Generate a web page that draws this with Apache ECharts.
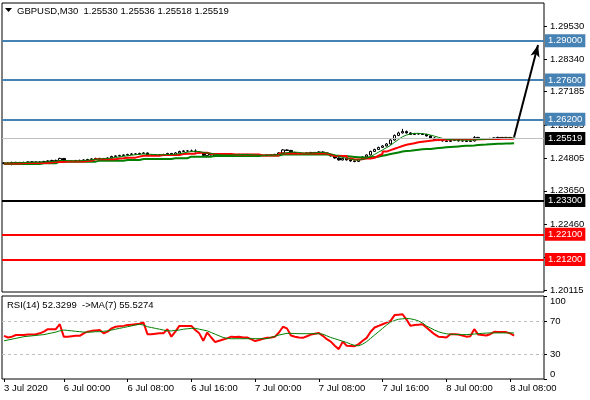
<!DOCTYPE html>
<html>
<head>
<meta charset="utf-8">
<script src="https://cdn.jsdelivr.net/npm/echarts@6/dist/echarts.min.js"></script>
<style>
  html, body { margin: 0; padding: 0; background: #fff; }
  #chart { width: 590px; height: 400px; }
</style>
</head>
<body>
<div id="chart"></div>
<script>
// GBPUSD M30 bars, 3 Jul 2020 16:30 .. 8 Jul 2020 08:30
const barOpen = [
  1.24620,1.24644,1.24626,1.24662,1.24662,1.24644,1.24662,1.24680,1.24680,1.24662,
  1.24680,1.24697,1.24715,1.24733,1.24733,1.24805,1.24697,1.24697,1.24715,1.24733,
  1.24733,1.24751,1.24769,1.24787,1.24805,1.24805,1.24787,1.24822,1.24876,1.24894,
  1.24911,1.24929,1.24947,1.24965,1.24965,1.24983,1.25001,1.24911,1.24929,1.24929,
  1.24929,1.24947,1.24983,1.24929,1.25001,1.25054,1.25072,1.25072,1.25072,1.25036,
  1.25001,1.24911,1.24983,1.24929,1.24894,1.24911,1.24929,1.24929,1.24947,1.24947,
  1.24947,1.24947,1.24947,1.24929,1.24894,1.24911,1.24911,1.24929,1.24929,1.24947,
  1.25001,1.25108,1.25090,1.25018,1.24983,1.24965,1.24965,1.25001,1.25018,1.25018,
  1.25036,1.25001,1.24947,1.24894,1.24822,1.24751,1.24805,1.24751,1.24715,1.24697,
  1.24769,1.24858,1.24929,1.25054,1.25126,1.25197,1.25250,1.25322,1.25464,1.25625,
  1.25714,1.25768,1.25714,1.25661,1.25679,1.25679,1.25661,1.25607,1.25536,1.25464,
  1.25447,1.25429,1.25411,1.25447,1.25447,1.25429,1.25429,1.25411,1.25429,1.25554,
  1.25500,1.25482,1.25482,1.25518,1.25536,1.25554,1.25536,1.25554,1.25530
];
const barHigh = [
  1.24670,1.24665,1.24690,1.24685,1.24680,1.24690,1.24700,1.24705,1.24700,1.24705,
  1.24720,1.24740,1.24755,1.24760,1.24830,1.24815,1.24725,1.24735,1.24750,1.24760,
  1.24775,1.24790,1.24810,1.24830,1.24825,1.24820,1.24845,1.24900,1.24915,1.24935,
  1.24950,1.24970,1.24990,1.24985,1.25010,1.25025,1.25015,1.24950,1.24955,1.24950,
  1.24970,1.25005,1.25000,1.25030,1.25080,1.25100,1.25095,1.25120,1.25130,1.25055,
  1.25020,1.25010,1.25000,1.24950,1.24935,1.24950,1.24955,1.24970,1.24965,1.24970,
  1.24965,1.24970,1.24960,1.24945,1.24935,1.24930,1.24950,1.24945,1.24970,1.25025,
  1.25140,1.25130,1.25110,1.25040,1.25005,1.24990,1.25020,1.25040,1.25035,1.25060,
  1.25055,1.25020,1.24965,1.24910,1.24840,1.24830,1.24820,1.24770,1.24730,1.24790,
  1.24880,1.24950,1.25080,1.25150,1.25225,1.25280,1.25350,1.25490,1.25660,1.25760,
  1.25860,1.25800,1.25740,1.25710,1.25700,1.25705,1.25685,1.25630,1.25560,1.25485,
  1.25470,1.25450,1.25470,1.25475,1.25465,1.25455,1.25450,1.25450,1.25600,1.25575,
  1.25520,1.25505,1.25540,1.25560,1.25580,1.25570,1.25575,1.25570,1.25536
];
const barLow = [
  1.24600,1.24605,1.24560,1.24640,1.24625,1.24630,1.24645,1.24660,1.24645,1.24650,
  1.24665,1.24680,1.24700,1.24715,1.24715,1.24680,1.24675,1.24680,1.24700,1.24715,
  1.24715,1.24735,1.24750,1.24770,1.24785,1.24770,1.24770,1.24805,1.24860,1.24875,
  1.24895,1.24910,1.24930,1.24945,1.24950,1.24965,1.24890,1.24895,1.24910,1.24915,
  1.24910,1.24930,1.24910,1.24910,1.24985,1.25035,1.25050,1.25055,1.25020,1.24985,
  1.24880,1.24840,1.24910,1.24875,1.24875,1.24895,1.24910,1.24910,1.24930,1.24925,
  1.24930,1.24925,1.24910,1.24875,1.24875,1.24890,1.24895,1.24910,1.24910,1.24930,
  1.24985,1.25070,1.25000,1.24965,1.24945,1.24945,1.24950,1.24985,1.25000,1.25000,
  1.24985,1.24930,1.24875,1.24800,1.24730,1.24730,1.24730,1.24690,1.24670,1.24680,
  1.24750,1.24840,1.24910,1.25035,1.25105,1.25180,1.25230,1.25300,1.25440,1.25600,
  1.25695,1.25690,1.25640,1.25645,1.25660,1.25640,1.25590,1.25515,1.25445,1.25425,
  1.25410,1.25390,1.25395,1.25425,1.25410,1.25410,1.25390,1.25395,1.25410,1.25480,
  1.25465,1.25460,1.25465,1.25500,1.25515,1.25515,1.25520,1.25520,1.25518
];
const barClose = [
  1.24644,1.24626,1.24662,1.24662,1.24644,1.24662,1.24680,1.24680,1.24662,1.24680,
  1.24697,1.24715,1.24733,1.24733,1.24805,1.24697,1.24697,1.24715,1.24733,1.24733,
  1.24751,1.24769,1.24787,1.24805,1.24805,1.24787,1.24822,1.24876,1.24894,1.24911,
  1.24929,1.24947,1.24965,1.24965,1.24983,1.25001,1.24911,1.24929,1.24929,1.24929,
  1.24947,1.24983,1.24929,1.25001,1.25054,1.25072,1.25072,1.25072,1.25036,1.25001,
  1.24911,1.24983,1.24929,1.24894,1.24911,1.24929,1.24929,1.24947,1.24947,1.24947,
  1.24947,1.24947,1.24929,1.24894,1.24911,1.24911,1.24929,1.24929,1.24947,1.25001,
  1.25108,1.25090,1.25018,1.24983,1.24965,1.24965,1.25001,1.25018,1.25018,1.25036,
  1.25001,1.24947,1.24894,1.24822,1.24751,1.24805,1.24751,1.24715,1.24697,1.24769,
  1.24858,1.24929,1.25054,1.25126,1.25197,1.25250,1.25322,1.25464,1.25625,1.25714,
  1.25768,1.25714,1.25661,1.25679,1.25679,1.25661,1.25607,1.25536,1.25464,1.25447,
  1.25429,1.25411,1.25447,1.25447,1.25429,1.25429,1.25411,1.25429,1.25554,1.25500,
  1.25482,1.25482,1.25518,1.25536,1.25554,1.25536,1.25554,1.25536,1.25519
];

// moving averages on price
const fastMA = [
  1.24640,1.24640,1.24645,1.24650,1.24652,1.24655,1.24660,1.24665,1.24668,1.24670,
  1.24675,1.24685,1.24695,1.24705,1.24730,1.24730,1.24725,1.24720,1.24715,1.24720,
  1.24730,1.24740,1.24755,1.24770,1.24785,1.24795,1.24800,1.24820,1.24840,1.24860,
  1.24880,1.24900,1.24920,1.24935,1.24950,1.24965,1.24955,1.24950,1.24940,1.24935,
  1.24935,1.24945,1.24945,1.24955,1.24975,1.25000,1.25030,1.25050,1.25060,1.25050,
  1.25020,1.25000,1.24980,1.24955,1.24935,1.24930,1.24925,1.24930,1.24935,1.24940,
  1.24945,1.24945,1.24940,1.24930,1.24920,1.24915,1.24915,1.24920,1.24925,1.24940,
  1.24980,1.25010,1.25030,1.25030,1.25020,1.25000,1.24990,1.24995,1.25005,1.25015,
  1.25015,1.25000,1.24970,1.24930,1.24880,1.24840,1.24810,1.24780,1.24750,1.24745,
  1.24770,1.24810,1.24870,1.24950,1.25030,1.25110,1.25190,1.25270,1.25380,1.25480,
  1.25580,1.25640,1.25680,1.25700,1.25700,1.25690,1.25670,1.25640,1.25600,1.25560,
  1.25520,1.25490,1.25475,1.25465,1.25460,1.25460,1.25455,1.25455,1.25465,1.25475,
  1.25485,1.25490,1.25495,1.25505,1.25515,1.25520,1.25525,1.25530,1.25530
];
const midMA = [
  1.24626,1.24626,1.24626,1.24626,1.24644,1.24644,1.24644,1.24644,1.24644,1.24644,
  1.24644,1.24660,1.24680,1.24680,1.24680,1.24697,1.24697,1.24697,1.24697,1.24697,
  1.24710,1.24720,1.24776,1.24776,1.24776,1.24776,1.24776,1.24776,1.24800,1.24815,
  1.24833,1.24833,1.24833,1.24870,1.24904,1.24904,1.24904,1.24904,1.24904,1.24929,
  1.24929,1.24929,1.24929,1.24929,1.24960,1.24976,1.24976,1.24976,1.25012,1.25012,
  1.25012,1.24965,1.24965,1.24965,1.24965,1.24965,1.24965,1.24947,1.24947,1.24947,
  1.24947,1.24947,1.24947,1.24947,1.24911,1.24911,1.24911,1.24911,1.24911,1.24983,
  1.24983,1.24983,1.24983,1.24983,1.24983,1.24983,1.24983,1.24983,1.24983,1.24983,
  1.24983,1.24940,1.24894,1.24894,1.24894,1.24894,1.24800,1.24769,1.24769,1.24780,
  1.24805,1.24805,1.24830,1.24900,1.24970,1.25048,1.25100,1.25150,1.25200,1.25250,
  1.25290,1.25320,1.25350,1.25380,1.25404,1.25420,1.25435,1.25450,1.25464,1.25470,
  1.25475,1.25480,1.25485,1.25489,1.25489,1.25489,1.25489,1.25489,1.25489,1.25489,
  1.25495,1.25500,1.25500,1.25500,1.25505,1.25505,1.25505,1.25505,1.25505
];
const slowMA = [
  1.24609,1.24609,1.24609,1.24609,1.24609,1.24609,1.24609,1.24609,1.24609,1.24633,
  1.24633,1.24633,1.24633,1.24691,1.24691,1.24691,1.24691,1.24691,1.24691,1.24691,
  1.24691,1.24691,1.24691,1.24726,1.24726,1.24726,1.24726,1.24726,1.24726,1.24726,
  1.24751,1.24751,1.24751,1.24751,1.24787,1.24787,1.24787,1.24787,1.24787,1.24787,
  1.24787,1.24787,1.24812,1.24812,1.24812,1.24812,1.24869,1.24869,1.24869,1.24869,
  1.24869,1.24869,1.24894,1.24894,1.24894,1.24894,1.24894,1.24894,1.24894,1.24894,
  1.24894,1.24894,1.24894,1.24894,1.24911,1.24911,1.24911,1.24911,1.24911,1.24947,
  1.24947,1.24947,1.24947,1.24947,1.24947,1.24947,1.24947,1.24947,1.24947,1.24947,
  1.24947,1.24930,1.24910,1.24900,1.24890,1.24880,1.24870,1.24860,1.24850,1.24840,
  1.24840,1.24850,1.24860,1.24869,1.24900,1.24930,1.24960,1.24990,1.25020,1.25050,
  1.25070,1.25083,1.25100,1.25115,1.25130,1.25140,1.25143,1.25160,1.25175,1.25190,
  1.25205,1.25215,1.25225,1.25235,1.25245,1.25255,1.25261,1.25270,1.25280,1.25290,
  1.25300,1.25311,1.25318,1.25325,1.25330,1.25335,1.25340,1.25345,1.25347
];

// RSI(14) and its MA(7)
const rsiValues = [
  52,50,51,53,53,53,53.5,53.5,54,55,
  57,60,60,60,66,51,51,51.5,52,52,
  55,57,58,58.5,59,55,57,61,63,63.5,
  64,65,65.5,66,66.5,68,54,54,54.5,55,
  55,60,51,57,64,64,64,64,59,55,
  46,56,50,44.5,46,47.5,49,51,50.5,51,
  50,50,48,45.7,47,48.5,49.6,50,51,56,
  63,61,52.4,51,50,49.6,51.5,53.5,54.5,55.5,
  52,48,45,40,36,45,40,39.8,39.6,42,
  46,49.6,57,62,64,66,68,70,77,77.5,
  78,71.5,64,65,65.5,66,62,58,54,51,
  50.5,50,54,54,53.5,52.5,51,51.5,60,53.5,
  53,52.4,54,56.8,56.6,56.5,56.5,55,52.33
];
const rsiMA = [
  46,47,48,49,50,51,51.5,52,52.5,53,
  53.5,54.5,55.5,56.5,58,59,58.5,58,57.5,57,
  56.5,56.5,56.5,57,57,57.5,58,59,60,61,
  62,63,64,65,66,65,63,62,61,60,
  59,58,58,58.5,59,60,60.5,61,61,60,
  59,58,56,54,52,50,49,48.5,48.5,48.5,
  48.5,48.6,48.6,48.6,48.6,48.6,48.6,50,51.5,53,
  54,55,55,54.8,54.6,54.6,54.6,54.6,54.6,54.6,
  54,52,50,48.5,47,45.5,44,42,40.5,40,
  42,45,49,53,57,61,65,68.5,70.5,72,
  72.5,73,72.5,71.5,70,67.5,64,61.5,59,57,
  55.5,54.5,54,53.8,53.6,53.5,53.5,53.8,54.2,54.6,
  55,55.3,55.5,55.5,55.5,55.5,55.5,55.5,55.53
];

// axis ticks
const priceTicks = [1.20115, 1.21290, 1.22460, 1.23650, 1.24805, 1.25995, 1.27185, 1.28340, 1.29530];
const rsiTicks = [0, 30, 70, 100];
const rsiLevels = [30, 70];
const xTickPos = [0, 15, 31, 47, 63, 79, 95, 111, 127];
const xTickLabels = ['3 Jul 2020', '6 Jul 00:00', '6 Jul 08:00', '6 Jul 16:00', '7 Jul 00:00',
  '7 Jul 08:00', '7 Jul 16:00', '8 Jul 00:00', '8 Jul 08:00'];

// drawn levels and the arrow
const levelPrices = [1.29000, 1.27600, 1.26200, 1.23300, 1.22100, 1.21200];
const levelKinds = ['target', 'target', 'target', 'pivot', 'support', 'support'];
const lastPrice = 1.25519;
const arrowFrom = ['128', 1.25572];
const arrowTo = ['134', 1.28852];

const kindColor = { target: '#4682b4', pivot: '#000000', support: '#ff0000' };
const fontFamily = '"Liberation Sans", Arial, sans-serif';
const slotCount = 136;
const slots = Array.from({ length: slotCount }, (_, i) => String(i));
const candles = barClose.map((c, i) => [barOpen[i], c, barLow[i], barHigh[i]]);
const tickAt = new Map(xTickPos.map((p, k) => [p, xTickLabels[k]]));
const last = barClose.length - 1;
const titleText = 'GBPUSD,M30  ' + [barOpen[last], barHigh[last], barLow[last], barClose[last]]
  .map(v => v.toFixed(5)).join(' ');

const chart = echarts.init(document.getElementById('chart'));

// level line with a coloured price box on the axis
const levelLine = (value, color, boxColor) => ({
  yAxis: value,
  lineStyle: { color, width: boxColor ? 1 : 2, type: 'solid' },
  label: {
    show: true, position: 'end', distance: 1,
    formatter: () => value.toFixed(5),
    backgroundColor: boxColor || color,
    color: '#fff', fontSize: 9.5, fontFamily, padding: [2, 3, 1, 3]
  }
})

const option = {
  animation: false,
  backgroundColor: '#fff',
  textStyle: { fontFamily },
  grid: [
    { left: 2, right: 46, top: 3, height: 289, show: true, borderColor: '#000', borderWidth: 1, backgroundColor: '#fff' },
    { left: 2, right: 46, top: 296, height: 83, show: true, borderColor: '#000', borderWidth: 1, backgroundColor: '#fff' }
  ],
  xAxis: [
    {
      type: 'category', gridIndex: 0, data: slots, boundaryGap: true,
      axisLine: { show: false }, axisTick: { show: false }, axisLabel: { show: false }, splitLine: { show: false }
    },
    {
      type: 'category', gridIndex: 1, data: slots, boundaryGap: true,
      axisLine: { show: false },
      axisTick: { show: true, alignWithLabel: true, length: 3, interval: i => tickAt.has(i), lineStyle: { color: '#000' } },
      axisLabel: {
        interval: i => tickAt.has(i), formatter: (v, i) => tickAt.get(i) || '',
        align: 'left', margin: 4, color: '#000', fontSize: 9.5, fontFamily
      },
      splitLine: { show: false }
    }
  ],
  yAxis: [
    {
      type: 'value', gridIndex: 0, position: 'right', min: 1.2004, max: 1.3035,
      axisLine: { show: false },
      axisTick: { show: true, customValues: priceTicks, length: 3, lineStyle: { color: '#000' } },
      axisLabel: { customValues: priceTicks, formatter: v => v.toFixed(5), color: '#000', fontSize: 9.5, margin: 6, fontFamily },
      splitLine: { show: false }
    },
    {
      type: 'value', gridIndex: 1, position: 'right', min: 0, max: 100,
      axisLine: { show: false },
      axisTick: { show: true, customValues: rsiTicks, length: 3, lineStyle: { color: '#000' } },
      axisLabel: {
        customValues: rsiTicks, color: '#000', fontSize: 9.5, margin: 6, fontFamily,
        verticalAlignMinLabel: 'bottom', verticalAlignMaxLabel: 'top'
      },
      splitLine: { show: false }
    }
  ],
  series: [
    {
      name: 'slow', type: 'line', xAxisIndex: 0, yAxisIndex: 0, data: slowMA, step: 'end',
      symbol: 'none', lineStyle: { color: '#008000', width: 2 }
    },
    {
      name: 'mid', type: 'line', xAxisIndex: 0, yAxisIndex: 0, data: midMA, step: 'end',
      symbol: 'none', lineStyle: { color: '#ff0000', width: 2 }
    },
    {
      name: 'fast', type: 'line', xAxisIndex: 0, yAxisIndex: 0, data: fastMA,
      symbol: 'none', lineStyle: { color: '#008000', width: 1 }
    },
    {
      name: 'GBPUSD', type: 'candlestick', xAxisIndex: 0, yAxisIndex: 0, data: candles, barWidth: 3,
      itemStyle: { color: '#fff', color0: '#000', borderColor: '#000', borderColor0: '#000', borderWidth: 1 },
      markLine: {
        silent: true, symbol: ['none', 'none'], animation: false, precision: 5,
        data: [
          levelLine(lastPrice, '#c0c0c0', '#000'),
          ...levelPrices.map((p, k) => levelLine(p, kindColor[levelKinds[k]])),
          [
            { coord: arrowFrom, symbol: 'none', lineStyle: { color: '#000', width: 2, type: 'solid' }, label: { show: false } },
            { coord: arrowTo, symbol: 'arrow', symbolSize: [7, 12] }
          ]
        ]
      }
    },
    {
      name: 'RSI', type: 'line', xAxisIndex: 1, yAxisIndex: 1, data: rsiValues,
      symbol: 'none', lineStyle: { color: '#ff0000', width: 2 },
      markLine: {
        silent: true, symbol: ['none', 'none'], animation: false, precision: 2, label: { show: false },
        lineStyle: { color: '#c0c0c0', width: 1, type: [3, 3] },
        data: rsiLevels.map(v => ({ yAxis: v }))
      }
    },
    {
      name: 'RSI MA', type: 'line', xAxisIndex: 1, yAxisIndex: 1, data: rsiMA,
      symbol: 'none', lineStyle: { color: '#008000', width: 1 }
    }
  ],
  graphic: [
    { type: 'polygon', shape: { points: [[5, 8], [12, 8], [8.5, 12]] }, style: { fill: '#000' }, z: 100 },
    {
      type: 'text', x: 17, y: 11, z: 100,
      style: { text: titleText, fill: '#000', font: '9.5px ' + fontFamily, verticalAlign: 'middle' }
    },
    {
      type: 'text', x: 7, y: 305, z: 100,
      style: { text: 'RSI(14) 52.3299  ->MA(7) 55.5274', fill: '#000', font: '9.5px ' + fontFamily, verticalAlign: 'middle' }
    }
  ]
};

chart.setOption(option);
</script>
</body>
</html>
